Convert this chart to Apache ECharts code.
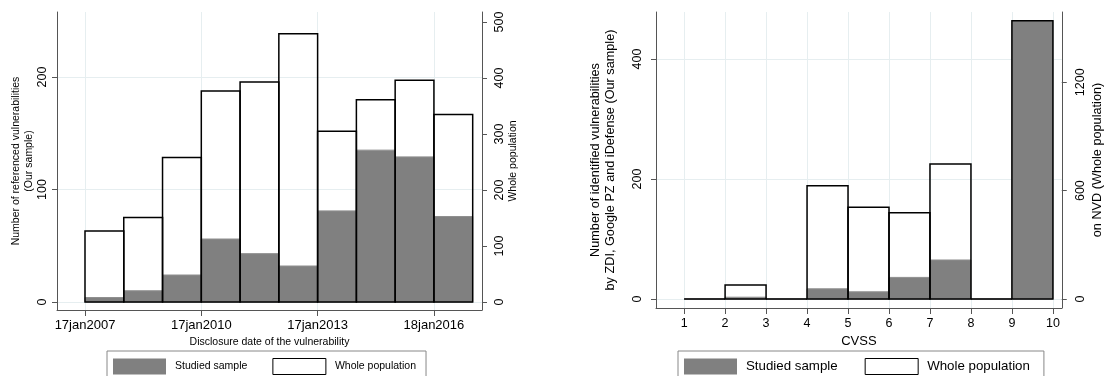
<!DOCTYPE html>
<html>
<head>
<meta charset="utf-8">
<script src="https://cdn.jsdelivr.net/npm/echarts@6/dist/echarts.min.js"></script>
<style>
  html, body { margin: 0; padding: 0; background: #fff; }
  #chart { width: 1106px; height: 376px; }
</style>
</head>
<body>
<div id="chart"></div>
<script>
// ---- Left chart: disclosure date (years since 17jan2007, yearly bins) ----
const yearBinEdges = [0, 1, 2, 3, 4, 5, 6, 7, 8, 9, 10];
const dateTickPos = [0, 3, 6, 9];
const dateTickLabels = ['17jan2007', '17jan2010', '17jan2013', '18jan2016'];
const sampleByYear = [4, 10, 24, 56, 43, 32, 81, 135, 129, 76];
const wholeByYear = [127, 151, 258, 377, 393, 479, 305, 361, 396, 335];
const leftYTicks = [0, 100, 200];
const leftY2Ticks = [0, 100, 200, 300, 400, 500];

// ---- Right chart: CVSS (unit bins 1..10) ----
const cvssBinEdges = [1, 2, 3, 4, 5, 6, 7, 8, 9, 10];
const cvssTicks = [1, 2, 3, 4, 5, 6, 7, 8, 9, 10];
const sampleByCvss = [0, 3, 0, 17, 12, 36, 65, 0, 464];
const wholeByCvss = [0, 78, 0, 627, 508, 478, 748, 0, 1541];
const rightYTicks = [0, 200, 400];
const rightY2Ticks = [0, 600, 1200];

function binData(edges, values) {
  return values.map((v, i) => [edges[i], edges[i + 1], v]);
}

function makeRender(style) {
  return function (params, api) {
    const x0 = api.value(0), x1 = api.value(1), v = api.value(2);
    const pTop = api.coord([x0, v]);
    const pBot = api.coord([x1, 0]);
    return {
      type: 'rect',
      shape: { x: pTop[0], y: pTop[1], width: pBot[0] - pTop[0], height: pBot[1] - pTop[1] },
      style: style
    };
  };
}

const FONT = 'Liberation Sans, Arial, Helvetica, sans-serif';
const axisLineStyle = { color: '#555', width: 1 };
const gridLineStyle = { color: '#e6eef0', width: 1 };

function valueXAxis(grid, min, max, ticks, fmt, name, fontSize, nameSize, nameGap) {
  return {
    type: 'value', gridIndex: grid, min: min, max: max,
    axisLine: { show: true, onZero: false, lineStyle: axisLineStyle },
    axisTick: { show: true, customValues: ticks, length: 6, lineStyle: axisLineStyle },
    axisLabel: { customValues: ticks, formatter: fmt, fontSize: fontSize, color: '#000', fontFamily: FONT, margin: 9 },
    splitLine: { show: true, lineStyle: gridLineStyle },
    name: name, nameLocation: 'middle', nameGap: nameGap,
    nameTextStyle: { fontSize: nameSize, color: '#000', fontFamily: FONT }
  };
}

function valueYAxis(grid, pos, min, max, ticks, split, name, fontSize, nameSize, nameGap, labelMargin) {
  return {
    type: 'value', gridIndex: grid, position: pos, min: min, max: max,
    axisLine: { show: true, onZero: false, lineStyle: axisLineStyle },
    axisTick: { show: true, customValues: ticks, length: 5, lineStyle: axisLineStyle },
    axisLabel: { customValues: ticks, rotate: 90, fontSize: fontSize, color: '#000', fontFamily: FONT,
      margin: labelMargin, formatter: v => String(v) },
    splitLine: { show: split, lineStyle: gridLineStyle },
    name: name, nameLocation: 'middle', nameGap: nameGap, nameRotate: 90,
    nameTextStyle: { fontSize: nameSize, color: '#000', fontFamily: FONT, lineHeight: nameSize * 1.2 }
  };
}

const sampleStyle = { fill: '#808080', stroke: '#8f8f8f', lineWidth: 1 };
const wholeStyle = { fill: 'none', stroke: '#000', lineWidth: 1.5 };

function legendFor(left, fontSize, gap, padRight) {
  return {
    left: left, top: 351, orient: 'horizontal', selectedMode: false,
    padding: [7, padRight, 7, 6],
    borderColor: '#888', borderWidth: 1, backgroundColor: '#fff',
    itemWidth: 53, itemHeight: 16, itemGap: gap,
    textStyle: { fontSize: fontSize, color: '#000', fontFamily: FONT, padding: [0, 0, 0, 4] },
    data: [
      { name: 'Studied sample', icon: 'rect', itemStyle: { color: '#808080', borderWidth: 0 } },
      { name: 'Whole population', icon: 'rect', itemStyle: { color: '#fff', borderColor: '#000', borderWidth: 1 } }
    ]
  };
}

const option = {
  animation: false,
  backgroundColor: '#fff',
  textStyle: { fontFamily: FONT },
  grid: [
    { left: 57, top: 12, width: 425, height: 298 },
    { left: 656, top: 12, width: 412, height: 296 }
  ],
  xAxis: [
    valueXAxis(0, -0.722, 10.24, dateTickPos,
      v => dateTickLabels[dateTickPos.indexOf(v)],
      'Disclosure date of the vulnerability', 13, 10.5, 23),
    valueXAxis(1, 0.314, 10.216, cvssTicks, v => String(v), 'CVSS', 12.5, 13, 25)
  ],
  yAxis: [
    valueYAxis(0, 'left', -7.11, 257.8, leftYTicks, true,
      'Number of referenced vulnerabilities\n(Our sample)', 12.5, 10.5, 22, 8),
    valueYAxis(0, 'right', -14.29, 517.9, leftY2Ticks, false,
      'Whole population', 12.5, 10.5, 23, 11),
    valueYAxis(1, 'left', -15, 478.3, rightYTicks, true,
      'Number of identified vulnerabilities\nby ZDI, Google PZ and iDefense (Our sample)', 12.5, 12.7, 38, 12),
    valueYAxis(1, 'right', -49.8, 1589, rightY2Ticks, false,
      'on NVD (Whole population)', 12.5, 12.7, 28, 12)
  ],
  legend: [
    legendFor(107, 10.5, 25, 10),
    legendFor(678, 13.3, 27, 14)
  ],
  series: [
    { name: 'Studied sample', type: 'custom', xAxisIndex: 0, yAxisIndex: 0,
      renderItem: makeRender(sampleStyle), encode: { x: [0, 1], y: 2 },
      itemStyle: { color: '#808080' }, data: binData(yearBinEdges, sampleByYear) },
    { name: 'Whole population', type: 'custom', xAxisIndex: 0, yAxisIndex: 1,
      renderItem: makeRender(wholeStyle), encode: { x: [0, 1], y: 2 },
      itemStyle: { color: '#fff' }, data: binData(yearBinEdges, wholeByYear) },
    { name: 'Studied sample', type: 'custom', xAxisIndex: 1, yAxisIndex: 2,
      renderItem: makeRender(sampleStyle), encode: { x: [0, 1], y: 2 },
      itemStyle: { color: '#808080' }, data: binData(cvssBinEdges, sampleByCvss) },
    { name: 'Whole population', type: 'custom', xAxisIndex: 1, yAxisIndex: 3,
      renderItem: makeRender(wholeStyle), encode: { x: [0, 1], y: 2 },
      itemStyle: { color: '#fff' }, data: binData(cvssBinEdges, wholeByCvss) }
  ]
};

const chart = echarts.init(document.getElementById('chart'), null, { renderer: 'canvas' });
chart.setOption(option);
</script>
</body>
</html>
